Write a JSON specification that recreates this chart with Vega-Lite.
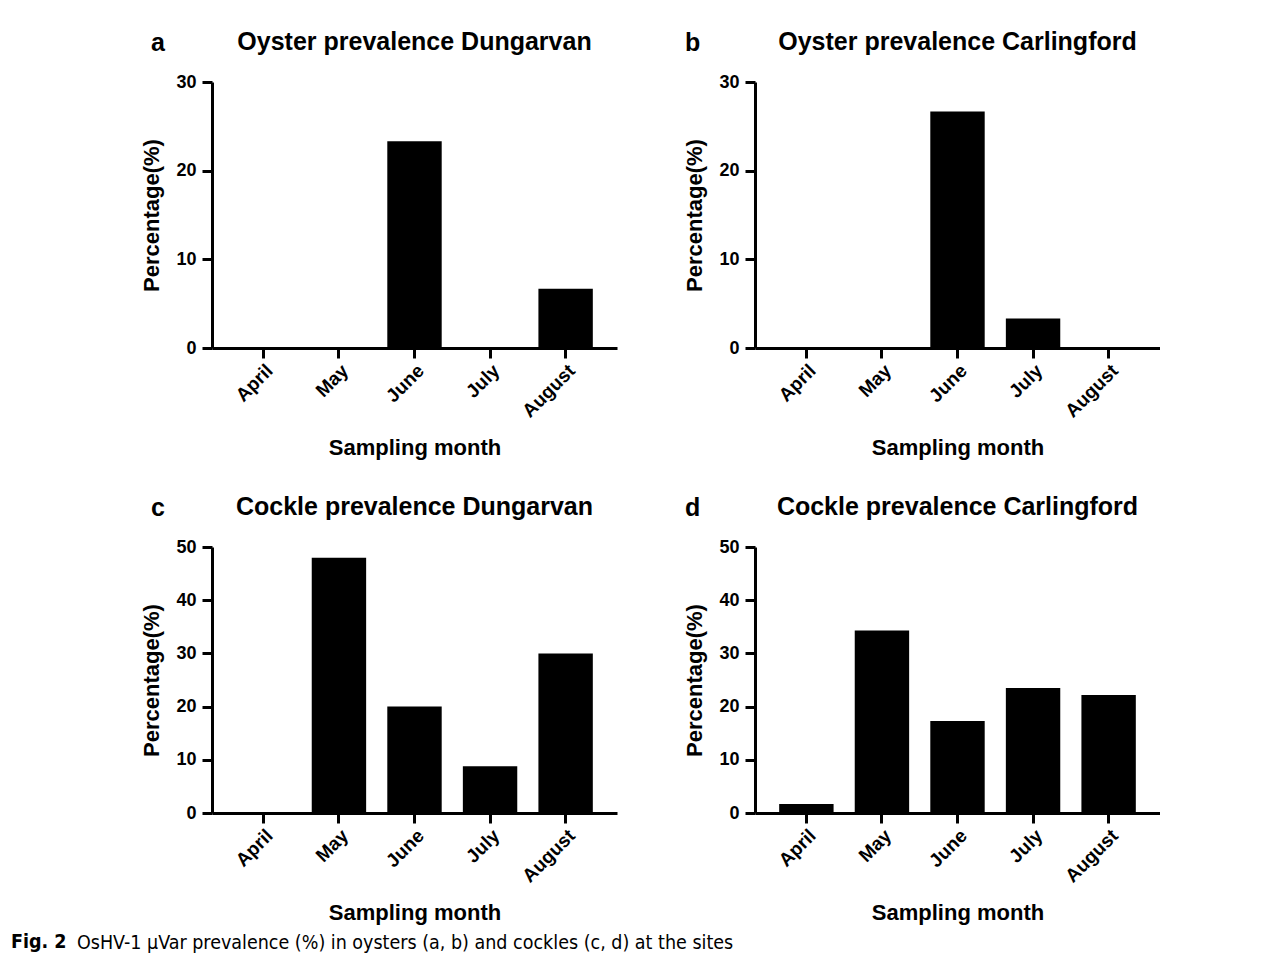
{
  "$schema": "https://vega.github.io/schema/vega-lite/v6.json",
  "background": "white",
  "padding": {"left": 10, "top": 30, "right": 0, "bottom": 5},
  "title": {
    "text": "Fig. 2",
    "orient": "bottom",
    "anchor": "start",
    "frame": "bounds",
    "dx": -66,
    "dy": -19,
    "offset": 0,
    "font": "DejaVu Sans Condensed, sans-serif",
    "fontSize": 19.5,
    "fontWeight": "bold",
    "color": "black"
  },
  "datasets": {
    "a": [
      {"month": "April", "value": 0},
      {"month": "May", "value": 0},
      {"month": "June", "value": 23.33},
      {"month": "July", "value": 0},
      {"month": "August", "value": 6.67}
    ],
    "b": [
      {"month": "April", "value": 0},
      {"month": "May", "value": 0},
      {"month": "June", "value": 26.67},
      {"month": "July", "value": 3.33},
      {"month": "August", "value": 0}
    ],
    "c": [
      {"month": "April", "value": 0},
      {"month": "May", "value": 48},
      {"month": "June", "value": 20},
      {"month": "July", "value": 8.8},
      {"month": "August", "value": 30}
    ],
    "d": [
      {"month": "April", "value": 1.7},
      {"month": "May", "value": 34.3},
      {"month": "June", "value": 17.3},
      {"month": "July", "value": 23.5},
      {"month": "August", "value": 22.2}
    ]
  },
  "vconcat": [
    {
      "title": {
        "text": "OsHV-1 μVar prevalence (%) in oysters (a, b) and cockles (c, d) at the sites",
        "orient": "bottom",
        "anchor": "start",
        "frame": "bounds",
        "dx": -64,
        "offset": 10,
        "font": "DejaVu Sans Condensed, sans-serif",
        "fontSize": 19.5,
        "fontWeight": "normal",
        "color": "black"
      },
      "spacing": 36,
      "vconcat": [
        {
          "spacing": 66,
          "hconcat": [
            {
              "title": {"text": "a", "anchor": "start", "frame": "bounds", "dx": 10, "dy": 26, "offset": 0},
              "vconcat": [
                {
                  "title": {"text": "Oyster prevalence Dungarvan", "offset": 18},
                  "width": 405,
                  "height": 266,
                  "data": {"name": "a"},
                  "mark": {"type": "bar", "color": "black"},
                  "encoding": {
                    "x": {"field": "month", "type": "nominal", "sort": ["April", "May", "June", "July", "August"], "title": "Sampling month"},
                    "y": {"field": "value", "type": "quantitative", "scale": {"domain": [0, 30], "nice": false}, "axis": {"values": [0, 10, 20, 30]}, "title": "Percentage(%)"}
                  }
                }
              ]
            },
            {
              "title": {"text": "b", "anchor": "start", "frame": "bounds", "dx": 1, "dy": 26, "offset": 0},
              "vconcat": [
                {
                  "title": {"text": "Oyster prevalence Carlingford", "offset": 18},
                  "width": 405,
                  "height": 266,
                  "data": {"name": "b"},
                  "mark": {"type": "bar", "color": "black"},
                  "encoding": {
                    "x": {"field": "month", "type": "nominal", "sort": ["April", "May", "June", "July", "August"], "title": "Sampling month"},
                    "y": {"field": "value", "type": "quantitative", "scale": {"domain": [0, 30], "nice": false}, "axis": {"values": [0, 10, 20, 30]}, "title": "Percentage(%)"}
                  }
                }
              ]
            }
          ]
        },
        {
          "spacing": 66,
          "hconcat": [
            {
              "title": {"text": "c", "anchor": "start", "frame": "bounds", "dx": 10, "dy": 26, "offset": 0},
              "vconcat": [
                {
                  "title": {"text": "Cockle prevalence Dungarvan", "offset": 18},
                  "width": 405,
                  "height": 266,
                  "data": {"name": "c"},
                  "mark": {"type": "bar", "color": "black"},
                  "encoding": {
                    "x": {"field": "month", "type": "nominal", "sort": ["April", "May", "June", "July", "August"], "title": "Sampling month"},
                    "y": {"field": "value", "type": "quantitative", "scale": {"domain": [0, 50], "nice": false}, "axis": {"values": [0, 10, 20, 30, 40, 50]}, "title": "Percentage(%)"}
                  }
                }
              ]
            },
            {
              "title": {"text": "d", "anchor": "start", "frame": "bounds", "dx": 1, "dy": 26, "offset": 0},
              "vconcat": [
                {
                  "title": {"text": "Cockle prevalence Carlingford", "offset": 18},
                  "width": 405,
                  "height": 266,
                  "data": {"name": "d"},
                  "mark": {"type": "bar", "color": "black"},
                  "encoding": {
                    "x": {"field": "month", "type": "nominal", "sort": ["April", "May", "June", "July", "August"], "title": "Sampling month"},
                    "y": {"field": "value", "type": "quantitative", "scale": {"domain": [0, 50], "nice": false}, "axis": {"values": [0, 10, 20, 30, 40, 50]}, "title": "Percentage(%)"}
                  }
                }
              ]
            }
          ]
        }
      ]
    }
  ],
  "config": {
    "font": "Liberation Sans",
    "view": {"stroke": null},
    "title": {"font": "Liberation Sans", "fontSize": 25, "fontWeight": "bold", "color": "black"},
    "axis": {
      "grid": false,
      "domainColor": "black",
      "domainWidth": 3,
      "tickColor": "black",
      "tickWidth": 3,
      "tickSize": 10,
      "labelColor": "black",
      "labelFont": "Liberation Sans",
      "labelFontSize": 18,
      "labelFontWeight": "bold",
      "titleColor": "black",
      "titleFont": "Liberation Sans",
      "titleFontSize": 22,
      "titleFontWeight": "bold"
    },
    "axisX": {"labelAngle": -45, "labelPadding": 3, "titlePadding": 17, "labelFontSize": 19},
    "axisY": {"labelPadding": 6, "titlePadding": 12},
    "scale": {"bandPaddingInner": 0.28, "bandPaddingOuter": 0.32}
  }
}
